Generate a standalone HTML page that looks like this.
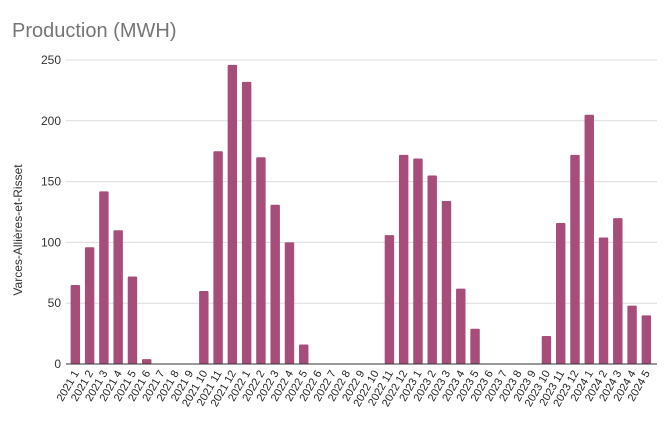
<!DOCTYPE html>
<html><head><meta charset="utf-8"><style>
body{margin:0;background:#fff;font-family:"Liberation Sans",sans-serif}
</style></head><body>
<svg width="670" height="430" viewBox="0 0 670 430">
<text x="12" y="37" font-size="20" fill="#757575">Production (MWH)</text>
<text transform="translate(22,230) rotate(-90)" text-anchor="middle" font-size="12" fill="#333">Varces-Allières-et-Risset</text>
<g id="grid"></g><g id="bars"></g><g id="xl"></g>
<line x1="66" y1="364" x2="657" y2="364" stroke="#333" stroke-width="1"/>
</svg>
<script>
const categories=["2021 1","2021 2","2021 3","2021 4","2021 5","2021 6","2021 7","2021 8","2021 9","2021 10","2021 11","2021 12","2022 1","2022 2","2022 3","2022 4","2022 5","2022 6","2022 7","2022 8","2022 9","2022 10","2022 11","2022 12","2023 1","2023 2","2023 3","2023 4","2023 5","2023 6","2023 7","2023 8","2023 9","2023 10","2023 11","2023 12","2024 1","2024 2","2024 3","2024 4","2024 5"];
const values=[65,96,142,110,72,4,0,0,0,60,175,246,232,170,131,100,16,0,0,0,0,0,106,172,169,155,134,62,29,0,0,0,0,23,116,172,205,104,120,48,40];
const yTicks=[0,50,100,150,200,250];
const NS="http://www.w3.org/2000/svg";
const x0=68.2,x1=653.5,yTop=60,yBot=364,yMax=250;
const step=(x1-x0)/categories.length;
const xc=i=>x0+step*(i+0.5);
const y=v=>yBot-(v/yMax)*(yBot-yTop);
function mk(t,a){const e=document.createElementNS(NS,t);for(const k in a)e.setAttribute(k,a[k]);return e;}
const grid=document.getElementById('grid');
yTicks.forEach(t=>{
 if(t>0){const l=mk('line',{x1:66,x2:657,y1:y(t),y2:y(t),stroke:'#dcdcdc','stroke-width':1});
 
 grid.appendChild(l);}
 const tx=mk('text',{x:61,y:y(t)+4,'text-anchor':'end','font-size':12,fill:'#333'});
 
 
 tx.textContent=t;grid.appendChild(tx);
});
const bars=document.getElementById('bars'),xl=document.getElementById('xl');
const bw=step*0.66;
values.forEach((v,i)=>{
 if(v>0){const r=mk('rect',{x:xc(i)-bw/2,y:y(v),width:bw,height:yBot-y(v),fill:'#a64d79',rx:1});
 
 bars.appendChild(r);}
 const t=mk('text',{transform:`translate(${xc(i)+4},${yBot+9}) rotate(-60)`,'text-anchor':'end','font-size':11,fill:'#222'});
 
 
 t.textContent=categories[i];xl.appendChild(t);
});
</script>
</body></html>
